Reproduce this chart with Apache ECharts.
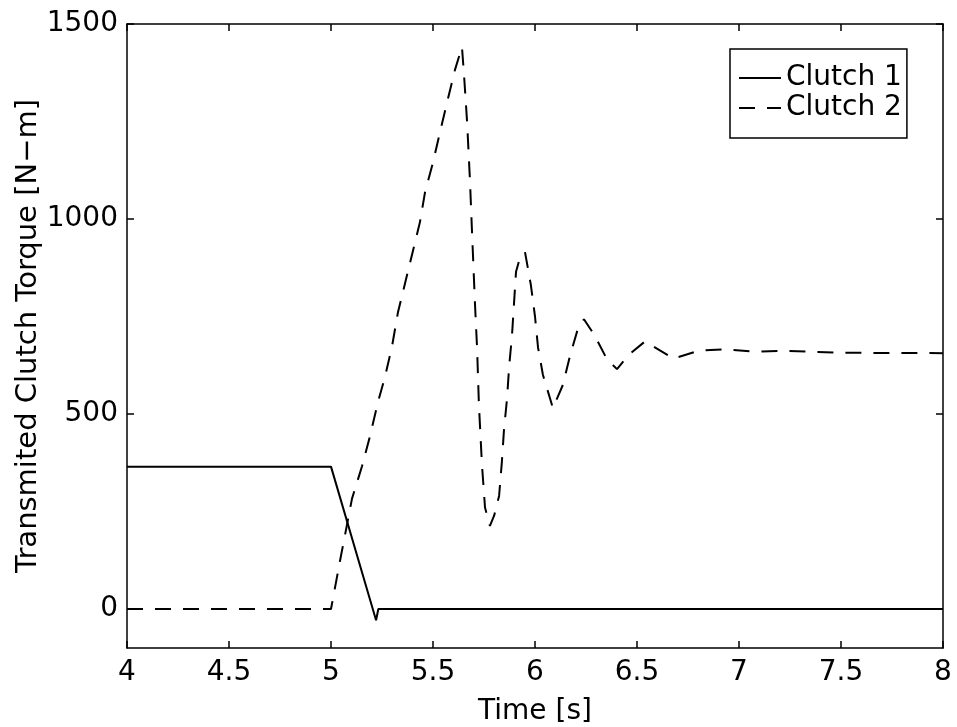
<!DOCTYPE html>
<html>
<head>
<meta charset="utf-8">
<script src="https://cdn.jsdelivr.net/npm/echarts@6/dist/echarts.min.js"></script>
<style>html,body{margin:0;padding:0;background:#fff;}#chart{width:957px;height:727px;}</style>
</head>
<body>
<div id="chart"></div>
<script>
// ---- data ----
var clutch1Time = [4.0, 5.0, 5.221, 5.232, 8.0];
var clutch1Torque = [365, 365, -29, 0, 0];

var clutch2Time = [4.0, 5.0, 5.044, 5.103, 5.152, 5.191, 5.230, 5.265, 5.299, 5.328, 5.436, 5.461, 5.500, 5.534, 5.569, 5.608, 5.642,
  5.652, 5.667, 5.681, 5.691, 5.706, 5.716, 5.725, 5.740, 5.755, 5.779, 5.800, 5.824, 5.838, 5.848, 5.863, 5.873, 5.887, 5.907, 5.926, 5.951,
  5.980, 6.000, 6.015, 6.039, 6.088, 6.137, 6.172, 6.211, 6.240, 6.294, 6.353, 6.402, 6.456, 6.539, 6.680, 6.800, 6.925, 7.080, 7.235, 7.500, 8.0];
var clutch2Torque = [0, 0, 123, 283, 366, 443, 530, 596, 673, 760, 992, 1069, 1145, 1222, 1299, 1383, 1441,
  1370, 1250, 1101, 970, 780, 670, 525, 370, 260, 213, 240, 290, 380, 460, 540, 620, 700, 865, 900, 915,
  830, 750, 670, 600, 515, 575, 650, 720, 743, 700, 640, 615, 650, 686, 642, 662, 666, 660, 662, 657, 656];

var xTicks = [4, 4.5, 5, 5.5, 6, 6.5, 7, 7.5, 8];
var yTicks = [0, 500, 1000, 1500];
var seriesNames = ['Clutch 1', 'Clutch 2'];

function zip(a, b) { return a.map(function (v, i) { return [v, b[i]]; }); }
function plain(v) { return String(v); }

var FONT = 'DejaVu Sans';
var FS = 28;
var chart = echarts.init(document.getElementById('chart'), null, { renderer: 'canvas' });
function axisLine() { return { show: true, onZero: false, lineStyle: { color: '#000', width: 1.5 } }; }
function ticks(vals) { return { show: true, inside: true, length: 7, customValues: vals, lineStyle: { color: '#000', width: 1.5 } }; }

chart.setOption({
  animation: false,
  backgroundColor: '#fff',
  grid: { left: 127, right: 14, top: 24, bottom: 79, containLabel: false, outerBoundsMode: 'none' },
  legend: {
    data: seriesNames,
    orient: 'vertical',
    left: 730, top: 49,
    padding: [14, 5, 15, 8],
    itemGap: 0,
    itemWidth: 42,
    itemHeight: 14,
    borderColor: '#000', borderWidth: 1.5,
    backgroundColor: '#fff',
    itemStyle: { opacity: 0 },
    textStyle: { fontFamily: FONT, fontSize: FS, color: '#000', lineHeight: 30 }
  },
  xAxis: [{
    type: 'value', min: 4, max: 8, interval: 0.5, position: 'bottom',
    axisLine: axisLine(), axisTick: ticks(xTicks),
    splitLine: { show: false },
    axisLabel: { customValues: xTicks, formatter: plain, fontFamily: FONT, fontSize: FS, color: '#000', margin: 11 },
    name: 'Time [s]', nameLocation: 'middle', nameGap: 50, nameMoveOverlap: false,
    nameTextStyle: { fontFamily: FONT, fontSize: FS, color: '#000' }
  }, {
    type: 'value', min: 4, max: 8, interval: 0.5, position: 'top',
    axisLine: axisLine(), axisTick: ticks(xTicks),
    splitLine: { show: false }, axisLabel: { show: false }
  }],
  yAxis: [{
    type: 'value', min: -100, max: 1500, position: 'left',
    axisLine: axisLine(), axisTick: ticks(yTicks),
    splitLine: { show: false },
    axisLabel: { customValues: yTicks, formatter: plain, fontFamily: FONT, fontSize: FS, color: '#000', margin: 9 },
    name: 'Transmited Clutch Torque [N\u2212m]', nameLocation: 'middle', nameGap: 84, nameRotate: 90, nameMoveOverlap: false,
    nameTextStyle: { fontFamily: FONT, fontSize: 29, color: '#000' }
  }, {
    type: 'value', min: -100, max: 1500, position: 'right',
    axisLine: axisLine(), axisTick: ticks(yTicks),
    splitLine: { show: false }, axisLabel: { show: false }
  }],
  series: [{
    name: seriesNames[0], type: 'line', data: zip(clutch1Time, clutch1Torque),
    showSymbol: false, symbol: 'none',
    lineStyle: { color: '#000', width: 2, type: 'solid' },
    itemStyle: { color: '#000' }
  }, {
    name: seriesNames[1], type: 'line', data: zip(clutch2Time, clutch2Torque),
    showSymbol: false, symbol: 'none',
    lineStyle: { color: '#000', width: 2, type: [16, 12] },
    itemStyle: { color: '#000' }
  }]
});
</script>
</body>
</html>
